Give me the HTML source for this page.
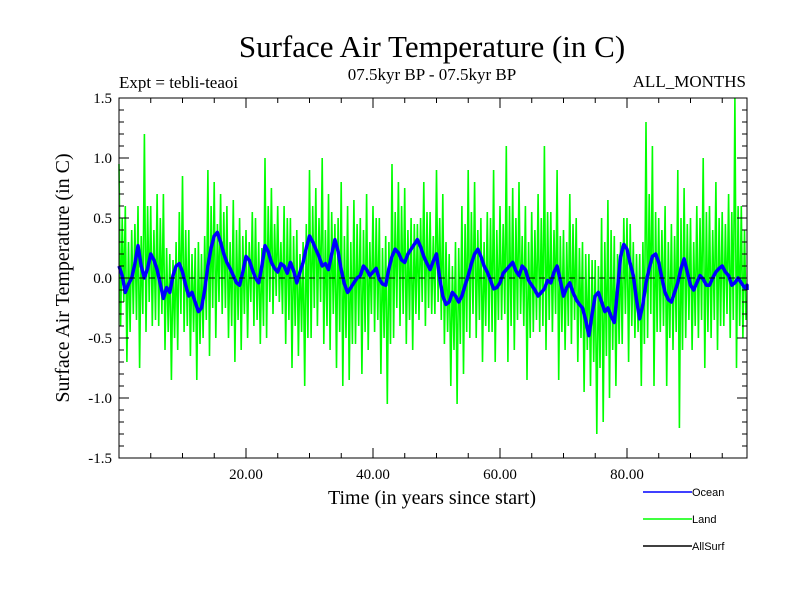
<!DOCTYPE html>
<html><head><meta charset="utf-8"><style>
body{margin:0;background:#fff}
svg{display:block}
.s{font-family:"Liberation Serif",serif}
.a{font-family:"Liberation Sans",sans-serif}
</style></head><body>
<svg id="chart" width="800" height="600" xmlns="http://www.w3.org/2000/svg">
<rect width="800" height="600" fill="#fff"/>
<text class="s" x="432" y="57" font-size="31" text-anchor="middle">Surface Air Temperature (in C)</text>
<text class="s" x="432" y="80" font-size="17" text-anchor="middle">07.5kyr BP - 07.5kyr BP</text>
<text class="s" x="119" y="88" font-size="17">Expt = tebli-teaoi</text>
<text class="s" x="746" y="87" font-size="17" text-anchor="end">ALL_MONTHS</text>
<text class="s" x="0" y="0" font-size="20" text-anchor="middle" transform="translate(69,278) rotate(-90)">Surface Air Temperature (in C)</text>
<text class="s" x="432" y="504" font-size="20" text-anchor="middle">Time (in years since start)</text>
<g id="plot"></g>
<g id="axes"></g>
<g>
<g><line x1="643" y1="492" x2="692" y2="492" stroke="#0000ff" stroke-width="1.5"/><text class="a" x="692" y="496" font-size="11">Ocean</text></g>
<g><line x1="643" y1="519" x2="692" y2="519" stroke="#00ff00" stroke-width="1.5"/><text class="a" x="692" y="523" font-size="11">Land</text></g>
<g><line x1="643" y1="546" x2="692" y2="546" stroke="#000" stroke-width="1.5"/><text class="a" x="692" y="550" font-size="11">AllSurf</text></g>
</g>
</svg>
<script>
const oceanYears=[0,1,2,3,4,5,6,7,8,9,10,11,12,13,14,15,16,17,18,19,20,21,22,23,24,25,26,27,28,29,30,31,32,33,34,35,36,37,38,39,40,41,42,43,44,45,46,47,48,49,50,51,52,53,54,55,56,57,58,59,60,61,62,63,64,65,66,67,68,69,70,71,72,73,74,75,76,77,78,79,80,81,82,83,84,85,86,87,88,89,90,91,92,93,94,95,96,97,98,99];
const oceanValues=[0.1,-0.12,0,0.27,0,0.2,0.07,-0.17,-0.12,0.1,0.05,-0.15,-0.2,-0.25,0.1,0.35,0.3,0.13,0.02,-0.06,0.18,0.07,-0.04,0.27,0.13,0.05,0.1,0.13,-0.04,0.13,0.35,0.24,0.1,0.07,0.32,0.07,-0.12,-0.04,0.02,0.07,0.05,-0.01,-0.06,0.18,0.21,0.13,0.24,0.32,0.18,0.07,0.2,-0.15,-0.2,-0.15,-0.15,0.02,0.2,0.18,0.05,-0.09,-0.04,0.07,0.13,0.02,0.07,-0.06,-0.15,-0.09,-0.04,0.1,-0.15,-0.04,-0.18,-0.25,-0.48,-0.15,-0.2,-0.25,-0.37,0.18,0.24,0.02,-0.34,-0.04,0.18,0.13,-0.12,-0.2,-0.04,0.16,-0.06,-0.04,-0.01,-0.06,0.05,0.1,0.02,-0.04,-0.04,-0.06];
const oceanHalf=[0.02,-0.05,0.12,0.1,0.08,0.15,-0.05,-0.08,0.02,0.12,-0.06,-0.12,-0.28,-0.1,0.25,0.38,0.2,0.08,-0.04,0.05,0.15,0.0,0.1,0.22,0.08,0.12,0.04,0.06,0.05,0.25,0.3,0.18,0.12,0.2,0.22,-0.05,-0.08,0.0,0.1,0.02,0.08,-0.05,0.08,0.24,0.15,0.2,0.28,0.26,0.12,0.14,0.0,-0.22,-0.12,-0.2,-0.06,0.12,0.24,0.1,-0.02,-0.08,0.04,0.1,0.06,0.1,-0.02,-0.1,-0.12,-0.02,0.05,-0.02,-0.08,-0.12,-0.22,-0.35,-0.3,-0.12,-0.28,-0.32,-0.1,0.28,0.12,-0.18,-0.22,0.08,0.2,0.0,-0.18,-0.12,0.08,0.05,-0.1,0.02,-0.06,0.0,0.08,0.05,-0.06,0.0,-0.08,-0.1];
const landHigh=[0.95,0.6,0.4,0.6,1.2,0.6,0.7,0.7,0.2,0.3,0.85,0.4,0.25,0.2,0.9,0.8,0.7,0.6,0.65,0.5,0.4,0.55,0.3,1.0,0.75,0.6,0.6,0.5,0.4,0.3,0.9,0.75,1.0,0.7,0.45,0.8,0.6,0.65,0.5,0.7,0.6,0.5,0.35,0.95,0.8,0.75,0.5,0.45,0.8,0.55,0.9,0.7,0.2,0.3,0.6,0.9,0.8,0.5,0.55,0.9,0.6,1.1,0.75,0.8,0.6,0.55,0.7,1.1,0.55,0.9,0.4,0.7,0.5,0.3,0.2,0.15,0.5,0.65,0.35,0.3,0.5,0.3,0.2,1.3,1.1,0.5,0.6,0.45,0.9,0.75,0.5,0.6,1.0,0.6,0.8,0.55,0.7,1.5,0.6];
const landLow=[-0.4,-0.7,-0.3,-0.75,-0.45,-0.4,-0.4,-0.6,-0.85,-0.6,-0.45,-0.65,-0.85,-0.5,-0.65,-0.5,-0.3,-0.5,-0.7,-0.6,-0.5,-0.4,-0.55,-0.5,-0.3,-0.2,-0.55,-0.75,-0.65,-0.9,-0.5,-0.4,-0.55,-0.6,-0.75,-0.9,-0.85,-0.55,-0.8,-0.6,-0.45,-0.8,-1.05,-0.5,-0.4,-0.55,-0.6,-0.35,-0.4,-0.3,-0.2,-0.55,-0.9,-1.05,-0.8,-0.5,-0.5,-0.7,-0.45,-0.7,-0.35,-0.7,-0.6,-0.3,-0.85,-0.45,-0.45,-0.6,-0.45,-0.85,-0.6,-0.55,-0.7,-0.95,-0.9,-1.3,-1.2,-1.0,-0.9,-0.55,-0.7,-0.5,-0.9,-0.5,-0.9,-0.45,-0.9,-0.6,-1.25,-0.5,-0.6,-0.5,-0.75,-0.5,-0.6,-0.4,-0.5,-0.75,-0.5];
const landMidHigh=[0.5,0.3,0.45,0.35,0.6,0.4,0.5,0.25,0.15,0.55,0.4,0.2,0.3,0.35,0.6,0.45,0.55,0.3,0.4,0.35,0.3,0.5,0.25,0.6,0.45,0.3,0.5,0.35,0.2,0.45,0.6,0.5,0.4,0.55,0.5,0.35,0.3,0.45,0.4,0.3,0.5,0.25,0.3,0.55,0.6,0.4,0.45,0.5,0.55,0.35,0.5,0.3,0.1,0.25,0.45,0.55,0.4,0.3,0.5,0.4,0.45,0.6,0.5,0.35,0.3,0.4,0.5,0.55,0.4,0.35,0.3,0.45,0.25,0.2,0.15,0.1,0.3,0.4,0.2,0.5,0.45,0.2,0.3,0.7,0.55,0.4,0.3,0.35,0.5,0.45,0.3,0.5,0.55,0.4,0.5,0.45,0.55,0.6,0.4];
const landMidLow=[-0.2,-0.45,-0.35,-0.3,-0.2,-0.35,-0.3,-0.45,-0.5,-0.3,-0.4,-0.45,-0.55,-0.35,-0.25,-0.2,-0.25,-0.4,-0.35,-0.3,-0.2,-0.35,-0.4,-0.2,-0.15,-0.3,-0.35,-0.4,-0.45,-0.5,-0.25,-0.2,-0.4,-0.3,-0.45,-0.5,-0.55,-0.4,-0.45,-0.3,-0.35,-0.5,-0.55,-0.25,-0.3,-0.35,-0.3,-0.2,-0.25,-0.3,-0.35,-0.45,-0.6,-0.55,-0.45,-0.3,-0.35,-0.4,-0.45,-0.35,-0.3,-0.4,-0.35,-0.4,-0.5,-0.35,-0.4,-0.35,-0.3,-0.45,-0.4,-0.35,-0.5,-0.6,-0.7,-0.75,-0.65,-0.6,-0.55,-0.3,-0.4,-0.45,-0.55,-0.3,-0.45,-0.4,-0.5,-0.45,-0.6,-0.35,-0.4,-0.35,-0.45,-0.35,-0.4,-0.3,-0.35,-0.4,-0.35];
const yTicks=[-1.5,-1.0,-0.5,0.0,0.5,1.0,1.5];
const xTicks=[20,40,60,80];
const xTickLabels=["20.00","40.00","60.00","80.00"];

const L=119,R=747,T=98,B=458,XMIN=0,XMAX=98.9,YMIN=-1.5,YMAX=1.5;
const sx=v=>L+(Math.min(v,XMAX)-XMIN)/(XMAX-XMIN)*(R-L);
const sy=v=>B-(v-YMIN)/(YMAX-YMIN)*(B-T);
const NS="http://www.w3.org/2000/svg";
const plot=document.getElementById('plot'),axes=document.getElementById('axes');
function mk(tag,at,p){const e=document.createElementNS(NS,tag);for(const k in at)e.setAttribute(k,at[k]);p.appendChild(e);return e;}
const P=(t,v)=>sx(t).toFixed(1)+','+sy(v).toFixed(1);

// land
let d='';
landHigh.forEach((h,i)=>{d+=(i?'L':'M')+P(i,h)+'L'+P(i+0.25,landLow[i])+'L'+P(i+0.5,landMidHigh[i])+'L'+P(i+0.75,landMidLow[i]);});
const land=mk('path',{d:d,fill:'none',stroke:'#00ff00','stroke-width':1.6},plot);


// ocean path
d='';
oceanYears.forEach((t,i)=>{d+=(i?'L':'M')+P(t,oceanValues[i])+'L'+P(t+0.5,oceanHalf[i]);});
const all=mk('path',{d:d,fill:'none',stroke:'#000','stroke-width':1},plot);


const oc=mk('path',{d:d,fill:'none',stroke:'#0000ff','stroke-width':3.5,'stroke-linejoin':'round'},plot);


const z=mk('line',{x1:L,x2:R,y1:sy(0),y2:sy(0),stroke:'#000','stroke-width':1,'stroke-dasharray':'6,4'},plot);



// frame
const fr=mk('rect',{x:L,y:T,width:R-L,height:B-T,fill:'none',stroke:'#000','stroke-width':1},axes);


for(let k=-15;k<=15;k++){const v=k/10,y=sy(v),len=(k%5===0)?10:5;
 mk('line',{x1:L,x2:L+len,y1:y,y2:y,stroke:'#000'},axes);
 mk('line',{x1:R,x2:R-len,y1:y,y2:y,stroke:'#000'},axes);}
yTicks.forEach(v=>{const t=mk('text',{x:L-7,y:sy(v)+5,'font-size':15,'text-anchor':'end',class:'s'},axes);t.textContent=v.toFixed(1);
 
 });
for(let v=5;v<XMAX;v+=5){const x=sx(v),len=(v%20===0)?10:5;
 mk('line',{x1:x,x2:x,y1:B,y2:B-len,stroke:'#000'},axes);
 mk('line',{x1:x,x2:x,y1:T,y2:T+len,stroke:'#000'},axes);}
xTicks.forEach((v,i)=>{const t=mk('text',{x:sx(v),y:B+21,'font-size':15,'text-anchor':'middle',class:'s'},axes);t.textContent=xTickLabels[i];
 
 });
</script>
</body></html>
